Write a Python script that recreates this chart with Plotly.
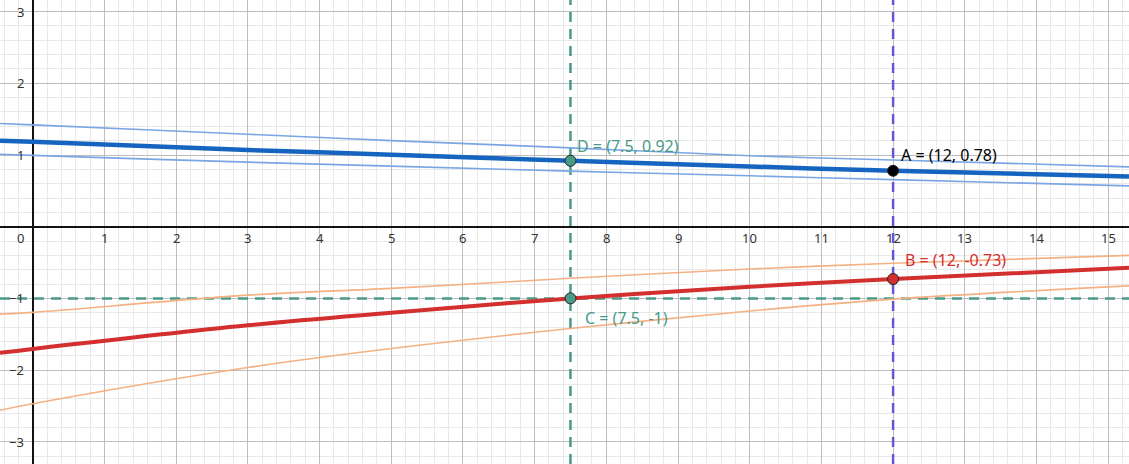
import plotly.graph_objects as go

xs = [-0.456, 0, 3, 5, 7.5, 10, 12, 15.29]

blue_fit = [1.20, 1.186, 1.07, 1.005, 0.92, 0.84, 0.78, 0.70]
blue_upper = [1.44, 1.42, 1.29, 1.20, 1.10, 0.99, 0.93, 0.835]
blue_lower = [1.01, 0.995, 0.90, 0.845, 0.775, 0.71, 0.656, 0.57]

red_fit = [-1.76, -1.705, -1.375, -1.20, -1.0, -0.837, -0.73, -0.574]
orange_upper = [-1.22, -1.195, -0.955, -0.86, -0.72, -0.59, -0.51, -0.40]
orange_lower = [-2.56, -2.47, -1.965, -1.70, -1.42, -1.176, -1.01, -0.825]

pt_names = ["A", "B", "C", "D"]
pt_x = [12, 12, 7.5, 7.5]
pt_y = [0.78, -0.73, -1, 0.92]

guide_x = [7.5, 12]
guide_y = -1

x_ticks = list(range(0, 16))
y_ticks = [-3, -2, -1, 1, 2, 3]

x_range = [-0.456, 15.29]
y_range = [-3.31, 3.162]

teal = "#4a9a8a"
purple = "#6457d6"
red = "#d32f2f"
blue = "#1565c0"
font = "Noto Sans"
dash = "10px,7px"

fig = go.Figure()

# dashed guide lines
fig.add_trace(go.Scatter(x=[guide_x[0]] * 2, y=y_range, mode="lines", line=dict(color=teal, width=2.5, dash=dash)))
fig.add_trace(go.Scatter(x=[guide_x[1]] * 2, y=y_range, mode="lines", line=dict(color=purple, width=2.5, dash=dash)))
fig.add_trace(go.Scatter(x=x_range, y=[guide_y] * 2, mode="lines", line=dict(color=teal, width=2.5, dash=dash)))

for ys in [blue_upper, blue_lower]:
    fig.add_trace(go.Scatter(x=xs, y=ys, mode="lines", line=dict(color="#7aa6e3", width=1.6, shape="spline")))
for ys in [orange_upper, orange_lower]:
    fig.add_trace(go.Scatter(x=xs, y=ys, mode="lines", line=dict(color="#f4b183", width=1.6, shape="spline")))
fig.add_trace(go.Scatter(x=xs, y=blue_fit, mode="lines", line=dict(color=blue, width=4.5, shape="spline")))
fig.add_trace(go.Scatter(x=xs, y=red_fit, mode="lines", line=dict(color=red, width=4, shape="spline")))

pt_colors = ["#000000", red, teal, teal]
fig.add_trace(go.Scatter(x=pt_x, y=pt_y, mode="markers",
                         marker=dict(size=11, color=pt_colors, line=dict(color="#222222", width=1))))

# point labels
offsets = {"A": (6, 16), "B": (10, 19), "C": (13, -20), "D": (5, 15)}
for n, x, y, c in zip(pt_names, pt_x, pt_y, pt_colors):
    dx, dy = offsets[n]
    fig.add_annotation(x=x, y=y, text=f"{n} = ({x:g}, {y:g})", showarrow=False,
                       xanchor="left", yanchor="middle", xshift=dx, yshift=dy,
                       font=dict(family=font, size=16, color=c))

# tick labels next to the axes
for t in x_ticks:
    fig.add_annotation(x=t, y=0, text=str(t), showarrow=False, yanchor="middle",
                       xanchor="center", xshift=-12 if t == 0 else 0, yshift=-11,
                       font=dict(family=font, size=13, color="#333333"))
for t in y_ticks:
    fig.add_annotation(x=0, y=t, text=str(t).replace("-", "\u2212"), showarrow=False,
                       xanchor="right", yanchor="middle", xshift=-7,
                       font=dict(family=font, size=13, color="#333333"))

axis_style = dict(showgrid=True, gridcolor="#bdbdbd", gridwidth=1, dtick=1, tick0=0,
                  minor=dict(dtick=0.2, showgrid=True, gridcolor="#e8e8e8", gridwidth=1),
                  zeroline=True, zerolinecolor="#111111", zerolinewidth=1.5,
                  showticklabels=False, ticks="", showline=False, fixedrange=True)

fig.update_xaxes(range=x_range, **axis_style)
fig.update_yaxes(range=y_range, **axis_style)
fig.update_layout(width=1129, height=464, margin=dict(l=0, r=0, t=0, b=0, pad=0),
                  plot_bgcolor="white", paper_bgcolor="white", showlegend=False)

fig.write_html("out.html", config=dict(displayModeBar=False),
               post_script="document.body.style.margin='0';document.body.style.overflow='hidden';")
